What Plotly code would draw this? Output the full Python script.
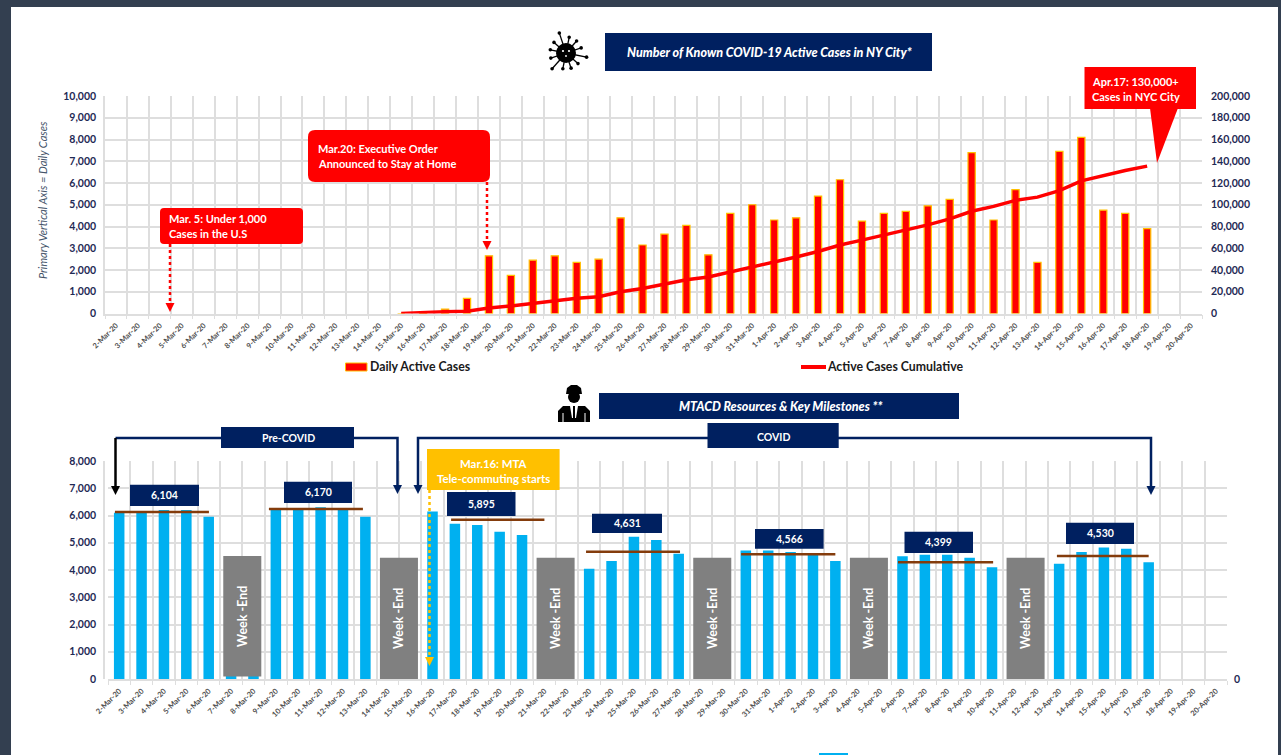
import math
import plotly.graph_objects as go

W, H = 1281, 755
FONT = "Lato"
NAVY = "#002060"
RED = "#ff0000"
GOLD = "#ffc000"
CYAN = "#00b0f0"
GREY = "#808080"
BROWN = "#843c0c"
GRID = "#dedede"
TICK = "#1f2a55"

dates = [f"{d}-Mar-20" for d in range(2, 32)] + [f"{d}-Apr-20" for d in range(1, 21)]

case_dates = dates[13:47 + 1]
daily_cases = [0, 50, 200, 700, 2650, 1750, 2450, 2650, 2350, 2500, 4400, 3150, 3650, 4050, 2700,
               4600, 5000, 4300, 4400, 5400, 6150, 4250, 4600, 4700, 4950, 5250, 7400, 4300,
               5700, 2350, 7450, 8100, 4750, 4600, 3900]
cumulative_cases = [0, 1000, 1500, 2000, 5000, 7000, 9500, 12000, 14000, 15500, 20000, 23000, 27000,
                    31000, 33500, 38000, 43000, 47500, 52000, 57000, 63000, 67500, 72000, 76500,
                    81500, 87000, 94000, 98500, 104000, 107000, 113000, 122000, 127000, 131500, 135500]

resource_dates = dates[:47]
resources = [6100, 6100, 6200, 6200, 5950, 120, 120, 6200, 6200, 6300, 6200, 5950, None, None,
             6150, 5700, 5650, 5400, 5280, None, None, 4050, 4330, 5220, 5100, 4600, None, None,
             4720, 4720, 4660, 4560, 4330, None, None, 4500, 4560, 4560, 4450, 4100, None, None,
             4230, 4660, 4830, 4780, 4280]

weekend_dates = ["7-Mar-20", "14-Mar-20", "21-Mar-20", "28-Mar-20", "4-Apr-20", "11-Apr-20"]
weekend_tops = [4510, 4450, 4450, 4450, 4450, 4450]
weekend_base = [90, 0, 0, 0, 0, 0]

avg_labels = ["6,104", "6,170", "5,895", "4,631", "4,566", "4,399", "4,530"]
avg_levels = [6130, 6240, 5845, 4670, 4580, 4285, 4515]
avg_start = [-0.19, 6.69, 14.83, 20.86, 27.79, 34.8, 41.9]
avg_end = [4.01, 10.89, 19.0, 25.06, 32.0, 39.05, 46.0]

X = lambda x: x / W
Y = lambda y: 1 - y / H

shapes, ann = [], []


def rect(x0, y0, x1, y1, color, line=None, layer="above"):
    shapes.append(dict(type="rect", xref="paper", yref="paper", x0=X(x0), x1=X(x1), y0=Y(y0), y1=Y(y1),
                       fillcolor=color, layer=layer, line=dict(width=1 if line else 0, color=line or color)))


def rrect(x0, y0, x1, y1, r, color):
    p = (f"M{X(x0+r)},{Y(y0)} L{X(x1-r)},{Y(y0)} Q{X(x1)},{Y(y0)} {X(x1)},{Y(y0+r)} "
         f"L{X(x1)},{Y(y1-r)} Q{X(x1)},{Y(y1)} {X(x1-r)},{Y(y1)} L{X(x0+r)},{Y(y1)} "
         f"Q{X(x0)},{Y(y1)} {X(x0)},{Y(y1-r)} L{X(x0)},{Y(y0+r)} Q{X(x0)},{Y(y0)} {X(x0+r)},{Y(y0)} Z")
    shapes.append(dict(type="path", xref="paper", yref="paper", path=p, fillcolor=color, line=dict(width=0)))


def poly(pts, color):
    p = "M" + " L".join(f"{X(a)},{Y(b)}" for a, b in pts) + " Z"
    shapes.append(dict(type="path", xref="paper", yref="paper", path=p, fillcolor=color, line=dict(width=0)))


def seg(pts, color, width=2.5, dash="solid"):
    p = "M" + " L".join(f"{X(a)},{Y(b)}" for a, b in pts)
    shapes.append(dict(type="path", xref="paper", yref="paper", path=p,
                       line=dict(color=color, width=width, dash=dash)))


def circ(cx, cy, r, color):
    shapes.append(dict(type="circle", xref="paper", yref="paper", x0=X(cx - r), x1=X(cx + r),
                       y0=Y(cy + r), y1=Y(cy - r), fillcolor=color, line=dict(width=0)))


def text(x, y, s, size=10, color="white", anchor="center", bold=True, italic=False, angle=0, weight=None):
    ann.append(dict(xref="paper", yref="paper", x=X(x), y=Y(y), text=s, showarrow=False, xanchor=anchor,
                    yanchor="middle", textangle=angle,
                    font=dict(family=FONT, size=size, color=color, weight=weight or (700 if bold else 400),
                              style="italic" if italic else "normal")))


def head(x, tip, color, half=4.5, length=9):
    poly([(x - half, tip - length), (x + half, tip - length), (x, tip)], color)


# page panel
rect(11, 7, 1278, 755, "white", layer="below")

# titles
rect(605, 33, 932, 71, NAVY)
text(769, 52, "Number of Known COVID-19 Active Cases in NY City*", size=12.5, italic=True, weight=900)
rect(599, 393, 959, 419, NAVY)
text(780, 406, "MTACD Resources &amp; Key Milestones **", size=12.5, italic=True, weight=900)

# virus icon
for k in range(12):
    a = k * math.pi / 6 + 0.2
    r = 21 if k % 4 == 0 else 16
    cx, cy = 566 + r * math.cos(a), 53 + r * math.sin(a)
    seg([(566, 53), (cx, cy)], "black", 1.3)
    circ(cx, cy, 1.8, "black")
circ(566, 53, 10, "black")
circ(563, 51, 1.1, "white")
circ(569, 51, 1.1, "white")
circ(566, 56, 0.9, "white")

# worker icon
circ(574, 397, 6, "black")
poly([(566, 394), (582, 394), (581, 388), (577, 385), (571, 385), (567, 388)], "black")
poly([(558, 422), (590, 422), (590, 411), (585, 406), (563, 406), (558, 411)], "black")
poly([(570, 406), (578, 406), (576, 418), (572, 418)], "white")
seg([(574, 406), (574, 420)], "black", 2)
seg([(563, 413), (563, 422)], "white", 1)
seg([(585, 413), (585, 422)], "white", 1)

# top legend
rect(345.5, 363, 367, 371, RED, GOLD)
text(367.5, 366.5, "Daily Active Cases", size=12.3, color="#1a1a1a", anchor="left")
seg([(801, 367), (826, 367)], RED, 4)
text(824.5, 366.5, "Active Cases Cumulative", size=12.3, color="#1a1a1a", anchor="left")

# axis title
text(42, 200, "Primary Vertical Axis = Daily Cases", size=11, color="#44546a", bold=False, italic=True, angle=-90)

# red callouts
rrect(160, 208, 303, 244, 4, RED)
text(167, 218.5, "Mar. 5: Under 1,000", size=11, anchor="left")
text(167, 233.5, "Cases in the U.S", size=11, anchor="left")
seg([(170, 244), (170, 304)], RED, 2.5, "dot")
head(170, 312, RED)

rrect(308, 130, 490, 182, 7, RED)
text(316, 148.5, "Mar.20: Executive Order", size=11, anchor="left")
text(316, 163.5, "Announced to Stay at Home", size=11, anchor="left")
seg([(487, 182), (487, 241)], RED, 2.5, "dot")
head(487, 250, RED)

rect(1084.5, 67, 1196, 109, RED)
poly([(1150, 108), (1178, 108), (1157, 163)], RED)
text(1090, 82, "Apr.17: 130,000+", size=11, anchor="left")
text(1090, 97, "Cases in NYC City", size=11, anchor="left")

# brackets
seg([(115.5, 438), (221, 438)], NAVY, 2.5)
seg([(115.5, 438), (115.5, 486)], "black", 2.5)
head(115.5, 495, "black")
seg([(354, 438), (397.5, 438), (397.5, 486)], NAVY, 2.5)
head(397.5, 494, NAVY)
rect(221, 427, 354, 448, NAVY)
text(288, 438, "Pre-COVID", size=10.5)

seg([(418, 486), (418, 438), (1151, 438), (1151, 486)], NAVY, 2.5)
head(418, 494, NAVY)
head(1151, 495, NAVY)
rect(707.5, 423, 838.7, 448, NAVY)
text(773, 437, "COVID", size=10.5)

# Mar.16 callout
seg([(429.5, 490), (429.5, 657)], GOLD, 2.5, "dot")
head(429.5, 666, GOLD)
rect(427, 449, 559.6, 490, GOLD)
text(493, 463, "Mar.16: MTA", size=11.4)
text(493, 478, "Tele-commuting starts", size=11.4)

# averages and their value boxes
boxes = [(130, 484.7, 199, 506), (284, 481.7, 352, 503), (447, 492, 515.5, 516), (592, 513.7, 662, 533),
         (755, 529, 823.6, 548.7), (904.5, 531.7, 973, 553), (1066, 522.7, 1134, 544)]
for lab, lev, s, e, b in zip(avg_labels, avg_levels, avg_start, avg_end, boxes):
    shapes.append(dict(type="line", xref="x2", yref="y3", x0=s, x1=e, y0=lev, y1=lev,
                       line=dict(color=BROWN, width=2.5)))
    rect(*b, NAVY)
    text((b[0] + b[2]) / 2, (b[1] + b[3]) / 2, lab, size=10.5)

# sliver of the next legend
rect(819, 753, 848, 755, CYAN)

fig = go.Figure()
fig.add_trace(go.Bar(x=case_dates, y=daily_cases, name="Daily Active Cases", width=0.33,
                     marker=dict(color=RED, line=dict(color=GOLD, width=1.2)), xaxis="x", yaxis="y"))
fig.add_trace(go.Scatter(x=case_dates, y=cumulative_cases, name="Active Cases Cumulative", mode="lines",
                         line=dict(color=RED, width=3.5), xaxis="x", yaxis="y2"))
fig.add_trace(go.Bar(x=resource_dates, y=resources, name="Resources", width=0.47,
                     marker=dict(color=CYAN, line=dict(width=0)), xaxis="x2", yaxis="y3"))
fig.add_trace(go.Bar(x=weekend_dates, y=[t - b for t, b in zip(weekend_tops, weekend_base)], base=weekend_base,
                     name="Week-End", width=1.7, offset=-0.35, text=["Week -End"] * 6, textposition="inside",
                     insidetextanchor="middle", textangle=-90, constraintext="none",
                     textfont=dict(family=FONT, size=12.5, color="white", weight=700),
                     marker=dict(color=GREY, line=dict(width=0)), xaxis="x2", yaxis="y3"))
# right-hand axis of the lower chart, which only carries a zero
fig.add_trace(go.Scatter(x=[dates[0]], y=[0], mode="none", showlegend=False, hoverinfo="skip", xaxis="x2", yaxis="y4"))

YFONT = dict(family=FONT, size=10.5, color=TICK, weight=700)
xcommon = dict(type="category", categoryorder="array", categoryarray=dates, tickmode="array", tickvals=dates,
               ticktext=dates, tickson="boundaries", ticks="outside", ticklen=4, tickcolor=GRID, showgrid=True,
               gridcolor=GRID, gridwidth=1.5, showline=True, linecolor=GRID, linewidth=1.5, tickangle=-45,
               ticklabelstandoff=3, range=[-0.5, 49.5], automargin=False,
               tickfont=dict(family=FONT, size=7.5, color="#505050", weight=700))
ycommon = dict(gridcolor=GRID, gridwidth=1.5, zeroline=False, showline=True, linecolor=GRID, linewidth=1.5,
               ticks="", automargin=False, tickfont=YFONT, ticklabelstandoff=5)

fig.update_layout(
    width=W, height=H, autosize=False, margin=dict(l=0, r=0, t=0, b=0, autoexpand=False), paper_bgcolor="#333f50",
    plot_bgcolor="white", showlegend=False, barmode="overlay", shapes=shapes, annotations=ann,
    xaxis=dict(domain=[X(105), X(1202)], anchor="y", **xcommon),
    yaxis=dict(domain=[Y(313.5), Y(96)], range=[0, 10000], dtick=1000, tickformat=",d", **ycommon),
    yaxis2=dict(overlaying="y", side="right", anchor="x", range=[0, 200000], dtick=20000, tickformat=",d",
                showgrid=False, zeroline=False, automargin=False, tickfont=YFONT, ticklabelstandoff=8),
    xaxis2=dict(domain=[X(108), X(1227)], anchor="y3", **xcommon),
    yaxis3=dict(domain=[Y(679), Y(461)], range=[0, 8000], dtick=1000, tickformat=",d", **ycommon),
    yaxis4=dict(domain=[Y(679), Y(461)], overlaying="y3", side="right", anchor="x2", range=[0, 8000],
                tickvals=[0], showgrid=False, zeroline=False, automargin=False, tickfont=YFONT, ticklabelstandoff=6),
)

fig.write_html("out.html", config=dict(displayModeBar=False),
               post_script="document.body.style.margin='0';document.body.style.background='#333f50';")
